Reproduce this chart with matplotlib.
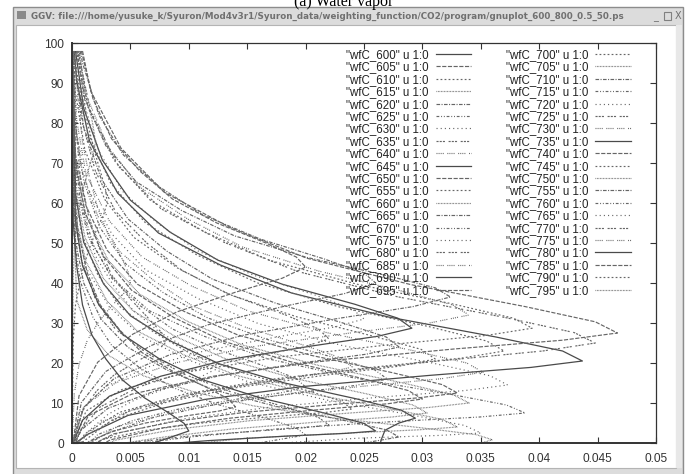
import numpy as np
import matplotlib
matplotlib.use("Agg")
import matplotlib.pyplot as plt
from matplotlib.patches import Rectangle
from matplotlib.lines import Line2D

plt.rcParams['lines.scale_dashes'] = False

# ---------------- text ----------------
title_text = "(a) Water vapor"
window_title = ("GGV: file:///home/yusuke_k/Syuron/Mod4v3r1/Syuron_data/"
                "weighting_function/CO2/program/gnuplot_600_800_0.5_50.ps")
wavenumbers = list(range(600, 800, 5))
x_ticks = [0, 0.005, 0.01, 0.015, 0.02, 0.025, 0.03, 0.035, 0.04, 0.045, 0.05]
x_tick_labels = ["0", "0.005", "0.01", "0.015", "0.02", "0.025", "0.03",
                 "0.035", "0.04", "0.045", "0.05"]
y_ticks = [0, 10, 20, 30, 40, 50, 60, 70, 80, 90, 100]
y_tick_labels = [str(v) for v in y_ticks]

# ---------------- data (weighting function values in units of 1e-3, vs altitude index) ----------------
alt_600 = [98, 90.5, 75.5, 62.5, 52.5, 44.5, 37.5, 31.5, 26.5, 23, 20.5, 18.9, 16.9, 14.1, 10.9, 6.9, 2.1, 0]
val_600 = [0.2, 0.4, 1.5, 3.9, 7.4, 12.7, 18.8, 27.1, 36.3, 42.0, 43.7, 39.3, 30.6, 19.7, 11.4, 4.8, 1.3, 0.3]
alt_605 = [98, 88, 73.7, 62.7, 53.9, 46.2, 39.6, 34.1, 30.3, 27.5, 25.7, 23.5, 20.3, 16.7, 12.2, 6.8, 0]
val_605 = [0.9, 1.6, 4.2, 7.9, 13.5, 20.1, 29.0, 38.8, 44.8, 46.7, 42.0, 32.7, 21.0, 12.1, 5.1, 1.4, 0.2]
alt_610 = [98, 83.7, 70.7, 60.7, 52.7, 45.7, 39.7, 34.7, 31.2, 28.7, 26.9, 24.7, 21.5, 17.9, 13.4, 8.0, 0]
val_610 = [0.4, 1.4, 3.6, 6.7, 11.4, 16.9, 24.4, 32.7, 37.8, 39.4, 35.5, 27.6, 17.7, 10.2, 4.3, 1.2, 0.2]
alt_615 = [98, 60, 35.8, 28.3, 21.8, 16.8, 12.8, 9.3, 6.3, 3.8, 2.1, 0.8, 0]
val_615 = [0.0, 0.1, 0.4, 1.3, 3.2, 6.1, 10.4, 15.5, 22.3, 29.9, 34.6, 36.0, 35.0]
alt_620 = [98, 86, 74.3, 65.3, 58.1, 51.8, 46.4, 41.9, 38.8, 36.5, 34.1, 31.1, 26.9, 22.1, 16.1, 8.9, 0]
val_620 = [0.4, 1.1, 2.9, 5.5, 9.4, 13.9, 20.1, 26.9, 31.1, 32.4, 29.2, 22.7, 14.6, 8.4, 3.6, 1.0, 0.1]
alt_625 = [98, 63.5, 51.5, 41.1, 33.1, 26.7, 21.1, 16.3, 12.3, 9.5, 7.5, 6.5, 5.3, 3.5, 1.5, 0]
val_625 = [0.0, 0.4, 1.4, 3.5, 6.6, 11.3, 16.7, 24.1, 32.2, 37.2, 38.8, 34.9, 27.2, 17.5, 10.1, 6.0]
alt_630 = [98, 77.5, 64, 52.3, 43.3, 36.1, 29.8, 24.4, 19.9, 16.8, 14.5, 13.1, 11.4, 8.9, 6.1, 2.6, 0]
val_630 = [0.1, 0.4, 1.3, 3.4, 6.3, 10.8, 16.0, 23.1, 31.0, 35.8, 37.3, 33.6, 26.1, 16.8, 9.7, 4.1, 2.0]
alt_635 = [98, 82.8, 69.1, 58.6, 50.2, 42.9, 36.6, 31.3, 27.6, 25, 23, 20.5, 17, 13, 8, 2, 0]
val_635 = [0.5, 1.6, 4.0, 7.6, 13.0, 19.3, 27.8, 37.2, 43.0, 44.8, 40.3, 31.4, 20.2, 11.6, 4.9, 1.3, 0.3]
alt_640 = [98, 80.7, 67.2, 55.5, 46.5, 39.3, 33.0, 27.6, 23.1, 20.0, 17.7, 16.1, 14.1, 11.3, 8.1, 4.1, 0]
val_640 = [0.1, 0.4, 1.2, 3.2, 6.0, 10.2, 15.1, 21.8, 29.2, 33.8, 35.2, 31.7, 24.6, 15.8, 9.2, 3.9, 1.5]
alt_645 = [98, 83.7, 70.7, 60.7, 52.7, 45.7, 39.7, 34.7, 31.2, 28.7, 26.7, 24.2, 20.7, 16.7, 11.7, 5.7, 0]
val_645 = [0.3, 1.0, 2.6, 5.0, 8.4, 12.5, 18.0, 24.2, 27.9, 29.1, 26.2, 20.4, 13.1, 7.6, 3.2, 0.9, 0.1]
alt_650 = [98, 72, 59.3, 48.2, 39.7, 32.9, 27.0, 21.9, 17.6, 14.6, 12.5, 11.3, 9.8, 7.7, 5.3, 2.3, 0]
val_650 = [0.0, 0.3, 1.2, 3.0, 5.6, 9.6, 14.2, 20.5, 27.4, 31.7, 33.0, 29.7, 23.1, 14.9, 8.6, 3.6, 2.0]
alt_655 = [98, 87.5, 73.3, 60.9, 51.4, 43.8, 37.2, 31.5, 26.7, 23.4, 21, 19.2, 17.0, 13.8, 10.2, 5.7, 0]
val_655 = [0.1, 0.3, 1.1, 2.8, 5.3, 9.0, 13.4, 19.3, 25.8, 29.9, 31.1, 28.0, 21.8, 14.0, 8.1, 3.4, 0.8]
alt_660 = [98, 63.5, 51.5, 41.1, 33.1, 26.7, 21.1, 16.3, 12.3, 9.5, 7.5, 6.5, 5.3, 3.5, 1.5, 0]
val_660 = [0.0, 0.3, 1.1, 2.7, 5.2, 8.8, 13.1, 18.8, 25.2, 29.2, 30.4, 27.4, 21.3, 13.7, 7.9, 4.5]
alt_665 = [98, 95, 82, 72, 64, 57, 51, 46, 42.5, 40, 37.4, 34.2, 29.6, 24.4, 17.9, 10.1, 0]
val_665 = [0.7, 0.9, 2.3, 4.4, 7.5, 11.2, 16.1, 21.6, 25.0, 26.0, 23.4, 18.2, 11.7, 6.8, 2.9, 0.8, 0.1]
alt_670 = [98, 79, 65.5, 53.8, 44.8, 37.6, 31.3, 25.9, 21.4, 18.3, 16, 14.4, 12.4, 9.6, 6.4, 2.4, 0]
val_670 = [0.1, 0.3, 1.0, 2.4, 4.6, 7.8, 11.6, 16.7, 22.4, 25.9, 27.0, 24.3, 18.9, 12.2, 7.0, 3.0, 1.5]
alt_675 = [98, 86, 73, 63, 55, 48, 42, 37, 33.5, 31, 29, 26.5, 23, 19, 14, 8, 0]
val_675 = [0.4, 0.9, 2.3, 4.3, 7.3, 10.8, 15.5, 20.8, 24.0, 25.0, 22.5, 17.5, 11.3, 6.5, 2.8, 0.8, 0.1]
alt_680 = [98, 57, 45.8, 36, 28.5, 22.5, 17.3, 12.8, 9, 6.4, 4.5, 3.8, 2.9, 1.7, 0.3, 0]
val_680 = [0.0, 0.2, 0.8, 2.0, 3.7, 6.4, 9.5, 13.6, 18.3, 21.1, 22.0, 19.8, 15.4, 9.9, 5.7, 5.0]
alt_685 = [98, 87, 74, 64, 56, 49, 43, 38, 34.5, 32, 30, 27.5, 24, 20, 15, 9, 0]
val_685 = [0.6, 1.2, 3.1, 5.8, 9.9, 14.6, 21.1, 28.2, 32.6, 34.0, 30.6, 23.8, 15.3, 8.8, 3.7, 1.0, 0.1]
alt_690 = [98, 62.2, 50.2, 39.8, 31.8, 25.4, 19.8, 15.0, 11.0, 8.2, 6.2, 5.0, 3.2, 1.0, 0]
val_690 = [0.0, 0.3, 1.0, 2.7, 5.0, 8.5, 12.6, 18.2, 24.4, 28.2, 29.4, 28.0, 26.8, 26.5, 26.4]
alt_695 = [98, 86, 76, 68, 61, 55, 50, 46.5, 44, 41.2, 37.7, 32.8, 27.2, 20.2, 11.8, 0]
val_695 = [0.8, 1.8, 3.4, 5.8, 8.6, 12.4, 16.6, 19.2, 20.0, 18.0, 14.0, 9.0, 5.2, 2.2, 0.6, 0.1]
alt_700 = [98, 93, 78, 65, 55, 47, 40, 34, 29, 25.5, 23, 21.2, 19.0, 15.8, 12.2, 7.7, 2.3, 0]
val_700 = [0.2, 0.4, 1.3, 3.3, 6.3, 10.7, 15.9, 22.9, 30.7, 35.5, 37.0, 33.3, 25.9, 16.7, 9.6, 4.1, 1.1, 0.6]
alt_705 = [98, 56.5, 45.3, 35.5, 28, 22, 16.8, 12.3, 8.5, 5.9, 4, 3.3, 2.4, 1.2, 0]
val_705 = [0.0, 0.3, 1.2, 3.0, 5.6, 9.6, 14.2, 20.5, 27.4, 31.7, 33.0, 29.7, 23.1, 14.9, 11.0]
alt_710 = [98, 94, 79, 66, 56, 48, 41, 35, 30, 26.5, 24, 22.2, 20.0, 16.8, 13.2, 8.7, 3.3, 0]
val_710 = [0.1, 0.3, 1.0, 2.5, 4.8, 8.1, 12.0, 17.4, 23.2, 26.9, 28.0, 25.2, 19.6, 12.6, 7.3, 3.1, 0.8, 0.3]
alt_715 = [98, 73.5, 60.8, 49.7, 41.2, 34.4, 28.5, 23.4, 19.1, 16.1, 14, 12.6, 10.9, 8.4, 5.6, 2.1, 0]
val_715 = [0.0, 0.2, 0.7, 1.8, 3.4, 5.8, 8.6, 12.4, 16.6, 19.2, 20.0, 18.0, 14.0, 9.0, 5.2, 2.2, 1.5]
alt_720 = [98, 55, 43.8, 34, 26.5, 20.5, 15.3, 10.8, 7, 4.4, 2.5, 1.9, 1.2, 0]
val_720 = [0.0, 0.4, 1.2, 3.2, 6.0, 10.2, 15.1, 21.7, 29.1, 33.6, 35.0, 31.5, 24.5, 18.0]
alt_725 = [98, 96, 81, 68, 58, 50, 43, 37, 32, 28.5, 26, 24, 21.5, 18, 14, 9, 3, 0]
val_725 = [0.1, 0.2, 0.8, 2.0, 3.7, 6.4, 9.5, 13.6, 18.3, 21.1, 22.0, 19.8, 15.4, 9.9, 5.7, 2.4, 0.7, 0.3]
alt_730 = [98, 82, 68.5, 56.8, 47.8, 40.6, 34.3, 28.9, 24.4, 21.3, 19, 17.4, 15.4, 12.6, 9.4, 5.4, 0.6, 0]
val_730 = [0.1, 0.2, 0.8, 2.2, 4.1, 7.0, 10.3, 14.9, 19.9, 23.0, 24.0, 21.6, 16.8, 10.8, 6.2, 2.6, 0.7, 0.5]
alt_735 = [98, 55.5, 44.3, 34.5, 27, 21, 15.8, 11.3, 7.5, 4.9, 3, 2.4, 1.7, 0.6, 0]
val_735 = [0.0, 0.3, 0.9, 2.3, 4.4, 7.5, 11.2, 16.1, 21.6, 25.0, 26.0, 23.4, 18.2, 11.7, 9.0]
alt_740 = [98, 70.5, 57.8, 46.7, 38.2, 31.4, 25.5, 20.4, 16.1, 13.1, 11, 9.8, 8.3, 6.2, 3.8, 0.8, 0]
val_740 = [0.0, 0.3, 1.1, 2.7, 5.1, 8.7, 12.9, 18.6, 24.9, 28.8, 30.0, 27.0, 21.0, 13.5, 7.8, 3.3, 2.8]
alt_745 = [98, 64.5, 52.5, 42.1, 34.1, 27.7, 22.1, 17.3, 13.3, 10.5, 8.5, 7.6, 6.5, 4.9, 3.1, 0.9, 0]
val_745 = [0.0, 0.2, 0.8, 2.2, 4.1, 7.0, 10.3, 14.9, 19.9, 23.0, 24.0, 21.6, 16.8, 10.8, 6.2, 2.6, 2.2]
alt_750 = [98, 69.5, 56.8, 45.7, 37.2, 30.4, 24.5, 19.4, 15.1, 12.1, 10, 8.9, 7.5, 5.6, 3.4, 0.7, 0]
val_750 = [0.0, 0.3, 1.2, 3.1, 5.8, 9.9, 14.6, 21.1, 28.2, 32.6, 34.0, 30.6, 23.8, 15.3, 8.8, 3.7, 3.2]
alt_755 = [98, 50.5, 40, 30.9, 23.9, 18.3, 13.4, 9.2, 5.7, 3.3, 1.5, 0]
val_755 = [0.0, 0.3, 1.0, 2.5, 4.8, 8.1, 12.0, 17.4, 23.2, 26.9, 28.0, 25.0]
alt_760 = [98, 51, 40.5, 31.4, 24.4, 18.8, 13.9, 9.7, 6.2, 3.8, 2, 0]
val_760 = [0.0, 0.2, 0.7, 1.8, 3.4, 5.8, 8.6, 12.4, 16.6, 19.2, 20.0, 16.0]
alt_765 = [98, 81, 67.5, 55.8, 46.8, 39.6, 33.3, 27.9, 23.4, 20.3, 18, 16.2, 14.0, 10.8, 7.2, 2.7, 0]
val_765 = [0.0, 0.1, 0.4, 1.1, 2.0, 3.5, 5.2, 7.4, 10.0, 11.5, 12.0, 10.8, 8.4, 5.4, 3.1, 1.3, 0.8]
alt_770 = [98, 95, 80, 67, 57, 49, 42, 36, 31, 27.5, 25, 23, 20.5, 17, 13, 8, 2, 0]
val_770 = [0.0, 0.1, 0.3, 0.7, 1.4, 2.3, 3.4, 5.0, 6.6, 7.7, 8.0, 7.2, 5.6, 3.6, 2.1, 0.9, 0.2, 0.1]
alt_775 = [98, 86.2, 75.2, 66.4, 58.7, 52.1, 46.6, 42.8, 40, 37.6, 34.6, 30.4, 25.6, 19.6, 12.4, 0]
val_775 = [0.2, 0.5, 0.9, 1.5, 2.2, 3.1, 4.2, 4.8, 5.0, 4.5, 3.5, 2.3, 1.3, 0.6, 0.2, 0.0]
alt_780 = [98, 55.5, 44.3, 34.5, 27, 21, 15.8, 11.3, 7.5, 4.9, 3, 0]
val_780 = [0.0, 0.1, 0.4, 0.9, 1.7, 2.9, 4.3, 6.2, 8.3, 9.6, 10.0, 7.0]
alt_785 = [98, 65, 53, 42.6, 34.6, 28.2, 22.6, 17.8, 13.8, 11, 9, 8, 6.8, 5, 3, 0.5, 0]
val_785 = [0.0, 0.1, 0.5, 1.3, 2.4, 4.1, 6.0, 8.7, 11.6, 13.4, 14.0, 12.6, 9.8, 6.3, 3.6, 1.5, 1.3]
alt_790 = [98, 88.8, 80.4, 73.2, 67.2, 63, 60, 57, 53.3, 48, 42, 34.5, 25.5, 0]
val_790 = [0.5, 0.9, 1.3, 1.9, 2.5, 2.9, 3.0, 2.7, 2.1, 1.4, 0.8, 0.3, 0.1, 0.0]
alt_795 = [98, 92, 86, 81, 77.5, 75, 72, 68.3, 63, 57, 49.5, 40.5, 0]
val_795 = [0.6, 0.9, 1.2, 1.7, 1.9, 2.0, 1.8, 1.4, 0.9, 0.5, 0.2, 0.1, 0.0]

VALUE_UNIT = 1e-3

series = [(wn, globals()["alt_%d" % wn], globals()["val_%d" % wn]) for wn in wavenumbers]

# gnuplot monochrome line types (cycle of 9)
dash_styles = [
    '-',
    (0, (3.0, 1.1)),
    (0, (1.3, 1.6)),
    (0, (0.5, 0.6)),
    (0, (2.6, 1.0, 0.8, 1.0)),
    (0, (2.0, 1.3, 0.7, 1.3, 0.7, 1.3)),
    (0, (0.8, 2.2)),
    (0, (1.5, 0.8, 1.5, 0.8, 1.5, 2.6)),
    (0, (0.7, 0.8, 0.7, 0.8, 0.7, 0.8, 0.7, 2.6)),
]

W, H, DPI = 688, 474, 100
fig = plt.figure(figsize=(W / DPI, H / DPI), dpi=DPI)
fig.patch.set_facecolor('white')

# ---------------- window chrome ----------------
bg = fig.add_axes([0, 0, 1, 1])
bg.set_xlim(0, W)
bg.set_ylim(H, 0)
bg.axis('off')
bg.add_patch(Rectangle((13, 7), 670, 470, facecolor='#dcdcdc', edgecolor='#8c8c8c', lw=1.0))
bg.add_patch(Rectangle((16, 25), 660, 443, facecolor='white', edgecolor='#b4b4b4', lw=0.8))
bg.add_patch(Rectangle((676, 25), 6, 443, facecolor='#e8e8e8', edgecolor='none'))
bg.add_patch(Rectangle((17, 11), 9, 8, facecolor='#8a8a8a', edgecolor='none'))
bg.text(31, 16, window_title, fontsize=6.3, fontweight='bold', color='#707070',
        family='DejaVu Sans', va='center', ha='left')
bg.text(656, 16.5, "_", fontsize=7, color='#707070', va='center', ha='center', family='DejaVu Sans')
bg.add_patch(Rectangle((664, 12), 7, 8, facecolor='none', edgecolor='#808080', lw=0.8))
bg.text(678, 16, "X", fontsize=7, color='#707070', va='center', ha='center', family='DejaVu Sans')
bg.text(W / 2, 6, title_text, fontsize=11.5, family='Liberation Serif', color='black',
        ha='center', va='baseline')

# ---------------- plot ----------------
left, right, top, bottom = 72, 656, 43, 443
ax = fig.add_axes([left / W, 1 - bottom / H, (right - left) / W, (bottom - top) / H])
ax.set_facecolor('white')

handles = []
for i, (wn, alt, val) in enumerate(series):
    ls = dash_styles[i % 9]
    col = '#4a4a4a' if i % 9 == 0 else '#666666'
    lw = 0.9 if i % 9 == 0 else 0.85
    ax.plot(np.array(val) * VALUE_UNIT, alt, ls=ls, color=col, lw=lw, solid_capstyle='butt')
    handles.append(Line2D([], [], ls=ls, color=col, lw=lw, label='"wfC_%d" u 1:0' % wn))

ax.set_xlim(0, 0.05)
ax.set_ylim(0, 100)
ax.set_xticks(x_ticks)
ax.set_xticklabels(x_tick_labels)
ax.set_yticks(y_ticks)
ax.set_yticklabels(y_tick_labels)
ax.tick_params(direction='in', length=4.5, width=0.8, color='#333333', top=True, right=True,
               labelsize=8.6, labelcolor='#333333', pad=6)
ax.tick_params(axis='x', pad=7)
for s in ax.spines.values():
    s.set_color('#333333')
    s.set_linewidth(0.9)
ax.spines['left'].set_linewidth(1.4)
ax.spines['bottom'].set_linewidth(1.4)
for lab in ax.get_xticklabels() + ax.get_yticklabels():
    lab.set_family('Liberation Sans')

leg = ax.legend(handles=handles, ncol=2, loc='upper left', frameon=False,
                bbox_to_anchor=((346 - left) / (right - left), 1 - (49 - top) / (bottom - top)),
                borderaxespad=0, borderpad=0, markerfirst=False, handlelength=3.1,
                handletextpad=0.6, columnspacing=3.0, labelspacing=0.035,
                prop={'family': 'Liberation Sans', 'size': 8.3})
for t in leg.get_texts():
    t.set_color('#222222')

fig.savefig('out.png', dpi=DPI, facecolor='white')
